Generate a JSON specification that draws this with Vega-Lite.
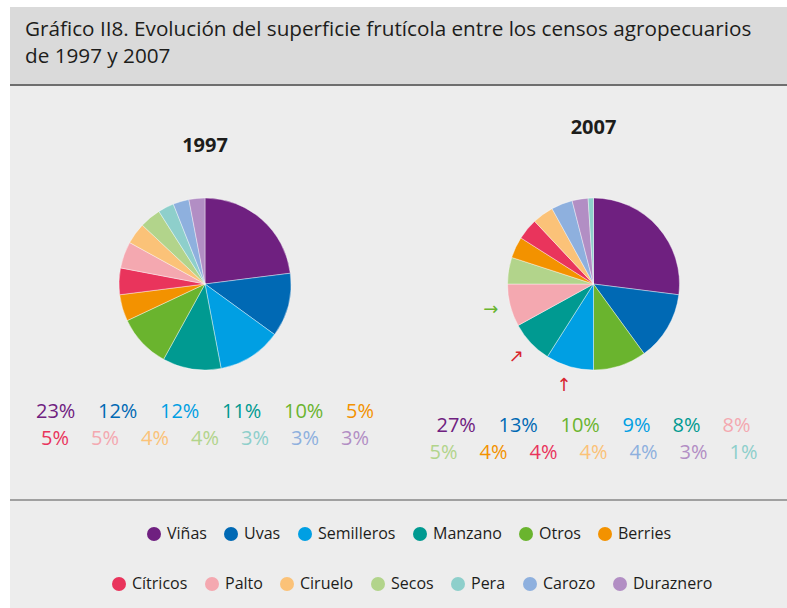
{"background":"#ededed","padding":0,
"config":{"view":{"stroke":null},"concat":{"spacing":0},"font":"Open Sans","title":{"color":"#1d1d1b","font":"Open Sans"},"legend":{"orient":"top","direction":"horizontal","offset":0,"padding":0,"symbolType":"circle","symbolSize":196,"symbolOpacity":1,"symbolStrokeWidth":0,"labelFont":"Open Sans","labelFontSize":16,"labelColor":"#1d1d1b","labelOffset":5,"columnPadding":16}},
"datasets":{"d":[
{"year":"1997","category":"Viñas","pct":23},{"year":"1997","category":"Uvas","pct":12},{"year":"1997","category":"Semilleros","pct":12},{"year":"1997","category":"Manzano","pct":11},{"year":"1997","category":"Otros","pct":10},{"year":"1997","category":"Berries","pct":5},{"year":"1997","category":"Cítricos","pct":5},{"year":"1997","category":"Palto","pct":5},{"year":"1997","category":"Ciruelo","pct":4},{"year":"1997","category":"Secos","pct":4},{"year":"1997","category":"Pera","pct":3},{"year":"1997","category":"Carozo","pct":3},{"year":"1997","category":"Duraznero","pct":3},
{"year":"2007","category":"Viñas","pct":27},{"year":"2007","category":"Uvas","pct":13},{"year":"2007","category":"Otros","pct":10},{"year":"2007","category":"Semilleros","pct":9,"trend":"baja"},{"year":"2007","category":"Manzano","pct":8,"trend":"baja"},{"year":"2007","category":"Palto","pct":8,"trend":"sube"},{"year":"2007","category":"Secos","pct":5},{"year":"2007","category":"Berries","pct":4},{"year":"2007","category":"Cítricos","pct":4},{"year":"2007","category":"Ciruelo","pct":4},{"year":"2007","category":"Carozo","pct":4},{"year":"2007","category":"Duraznero","pct":3},{"year":"2007","category":"Pera","pct":1}]},
"spacing":0,"vconcat":[
{"width":787,"height":7,"data":{"values":[]},"mark":"point","encoding":{},"view":{"fill":"#fff"}},
{"spacing":0,"hconcat":[
{"width":10,"height":601,"data":{"values":[]},"mark":"point","encoding":{},"view":{"fill":"#fff"}},
{"spacing":0,"resolve":{"scale":{"color":"independent"},"legend":{"color":"independent"}},"vconcat":[
{"width":777,"height":77,"data":{"values":[]},"mark":"point","encoding":{},"view":{"fill":"#dadada"},"title":{"text":["Gráfico II8. Evolución del superficie frutícola entre los censos agropecuarios","de 1997 y 2007"],"anchor":"start","frame":"group","offset":-61,"dx":15,"fontSize":20.7,"fontWeight":"normal","lineHeight":27.5}},
{"width":777,"height":2,"data":{"values":[]},"mark":"point","encoding":{},"view":{"fill":"#6e6e6e"}},
{"width":777,"height":32,"data":{"values":[]},"mark":"point","encoding":{},"view":{"fill":"#ededed"}},
{"spacing":0,"hconcat":[
{"spacing":0,"vconcat":[
{"width":390,"height":194,"title":{"text":"1997","frame":"group","anchor":"middle","offset":31,"fontSize":20,"fontWeight":"bold"},"data":{"name":"d"},"transform":[{"filter":"datum.year=='1997'"},{"window":[{"op":"row_number","as":"idx"}]}],"mark":{"type":"arc","radius":86,"stroke":"#fff","strokeWidth":0.4},"encoding":{"theta":{"field":"pct","type":"quantitative","stack":true},"order":{"field":"idx","type":"quantitative"},"color":{"field":"category","type":"nominal","legend":null,"scale":{"domain":["Viñas","Uvas","Semilleros","Manzano","Otros","Berries","Cítricos","Palto","Ciruelo","Secos","Pera","Carozo","Duraznero"],"range":["#6f2080","#0069b4","#009fe3","#009a91","#6ab42e","#f39200","#e9345c","#f4a8b0","#fbc278","#b2d48b","#8ecfcb","#8eb0de","#b28ec4"]}}}},
{"width":390,"height":104,"data":{"name":"d"},"transform":[{"filter":"datum.year=='1997'"},{"window":[{"op":"row_number","as":"idx"}]},{"calculate":"datum.idx<=6?1:2","as":"fila"},{"calculate":"datum.pct>=10?62:50","as":"step"},{"window":[{"op":"sum","field":"step","as":"cum"}],"groupby":["fila"],"sort":[{"field":"idx"}]},{"joinaggregate":[{"op":"sum","field":"step","as":"tot"}],"groupby":["fila"]},{"calculate":"datum.cum-datum.step-(datum.tot-22)/2","as":"xpos"},{"calculate":"datum.pct+'%'","as":"label"}],"mark":{"type":"text","align":"left","baseline":"middle","fontSize":20,"font":"Open Sans"},"encoding":{"x":{"field":"xpos","type":"quantitative","scale":{"domain":[-195,195],"nice":false,"zero":false},"axis":null},"y":{"field":"fila","type":"quantitative","scale":{"domain":[-0.148,3.704],"reverse":true,"nice":false,"zero":false},"axis":null},"text":{"field":"label","type":"nominal"},"color":{"field":"category","type":"nominal","legend":null}}}]},
{"spacing":0,"vconcat":[
{"width":387,"height":194,"title":{"text":"2007","frame":"group","anchor":"middle","offset":31,"fontSize":20,"fontWeight":"bold"},"data":{"name":"d"},"transform":[{"filter":"datum.year=='2007'"},{"window":[{"op":"row_number","as":"idx"}]},{"joinaggregate":[{"op":"sum","field":"pct","as":"total"}]},{"window":[{"op":"sum","field":"pct","as":"cum"}],"sort":[{"field":"idx"}]},{"calculate":"(datum.cum-datum.pct/2)/datum.total*360","as":"mid"},{"calculate":"!datum.trend?'':(datum.mid>236?'→':(datum.mid>211?'↗':'↑'))","as":"arrow"}],"layer":[
{"mark":{"type":"arc","radius":86,"stroke":"#fff","strokeWidth":0.4},"encoding":{"theta":{"field":"pct","type":"quantitative","stack":true},"order":{"field":"idx","type":"quantitative"},"color":{"field":"category","type":"nominal","legend":null}}},
{"mark":{"type":"text","radius":106,"fontSize":18,"font":"DejaVu Sans","baseline":"middle","align":"center"},"encoding":{"theta":{"field":"pct","type":"quantitative","stack":true},"order":{"field":"idx","type":"quantitative"},"detail":{"field":"category","type":"nominal"},"text":{"field":"arrow","type":"nominal"},"color":{"condition":{"test":"datum.trend==='sube'","value":"#6ab42e"},"value":"#d8262e"}}}]},
{"width":387,"height":104,"data":{"name":"d"},"transform":[{"filter":"datum.year=='2007'"},{"window":[{"op":"row_number","as":"idx"}]},{"calculate":"datum.idx<=6?1:2","as":"fila"},{"calculate":"datum.pct>=10?62:50","as":"step"},{"window":[{"op":"sum","field":"step","as":"cum"}],"groupby":["fila"],"sort":[{"field":"idx"}]},{"joinaggregate":[{"op":"sum","field":"step","as":"tot"}],"groupby":["fila"]},{"calculate":"datum.cum-datum.step-(datum.tot-22)/2","as":"xpos"},{"calculate":"datum.pct+'%'","as":"label"}],"mark":{"type":"text","align":"left","baseline":"middle","fontSize":20,"font":"Open Sans"},"encoding":{"x":{"field":"xpos","type":"quantitative","scale":{"domain":[-193.5,193.5],"nice":false,"zero":false},"axis":null},"y":{"field":"fila","type":"quantitative","scale":{"domain":[-0.148,3.704],"reverse":true,"nice":false,"zero":false},"axis":null},"text":{"field":"label","type":"nominal"},"color":{"field":"category","type":"nominal","legend":null}}}]}]},
{"width":777,"height":2,"data":{"values":[]},"mark":"point","encoding":{},"view":{"fill":"#a0a0a0"}},
{"width":777,"height":25,"data":{"values":[]},"mark":"point","encoding":{},"view":{"fill":"#ededed"}},
{"spacing":0,"resolve":{"scale":{"color":"independent"},"legend":{"color":"independent"}},"hconcat":[
{"width":133,"height":34,"data":{"values":[]},"mark":"point","encoding":{},"view":{"fill":"#ededed"}},
{"width":1,"height":18,"data":{"name":"d"},"transform":[{"filter":"datum.year=='1997'"},{"filter":{"field":"category","oneOf":["Viñas","Uvas","Semilleros","Manzano","Otros","Berries"]}}],"mark":{"type":"point","opacity":0,"filled":true},"encoding":{"color":{"field":"category","type":"nominal","scale":{"domain":["Viñas","Uvas","Semilleros","Manzano","Otros","Berries"],"range":["#6f2080","#0069b4","#009fe3","#009a91","#6ab42e","#f39200"]},"legend":{"title":null}}}}]},
{"spacing":0,"resolve":{"scale":{"color":"independent"},"legend":{"color":"independent"}},"hconcat":[
{"width":98,"height":35,"data":{"values":[]},"mark":"point","encoding":{},"view":{"fill":"#ededed"}},
{"width":1,"height":19,"data":{"name":"d"},"transform":[{"filter":"datum.year=='1997'"},{"filter":{"field":"category","oneOf":["Cítricos","Palto","Ciruelo","Secos","Pera","Carozo","Duraznero"]}}],"mark":{"type":"point","opacity":0,"filled":true},"encoding":{"color":{"field":"category","type":"nominal","scale":{"domain":["Cítricos","Palto","Ciruelo","Secos","Pera","Carozo","Duraznero"],"range":["#e9345c","#f4a8b0","#fbc278","#b2d48b","#8ecfcb","#8eb0de","#b28ec4"]},"legend":{"title":null}}}}]},
{"width":777,"height":2,"data":{"values":[]},"mark":"point","encoding":{},"view":{"fill":"#8a8a8a"}},
{"width":777,"height":43,"data":{"values":[]},"mark":"point","encoding":{},"view":{"fill":"#dadada"},"title":{"text":"Fuente:","subtitle":"\u00a0\u00a0\u00a0\u00a0\u00a0\u00a0\u00a0\u00a0\u00a0\u00a0\u00a0\u00a0\u00a0\u00a0\u00a0\u00a0Censo Agropecuario y Forestal, 1997 y 2007, INE.","anchor":"start","frame":"group","offset":-30,"dx":15,"fontSize":18,"fontWeight":"bold","subtitleFont":"Open Sans","subtitleFontSize":18,"subtitleFontWeight":"normal","subtitleColor":"#1d1d1b","subtitlePadding":-18}}
]}]}]}
